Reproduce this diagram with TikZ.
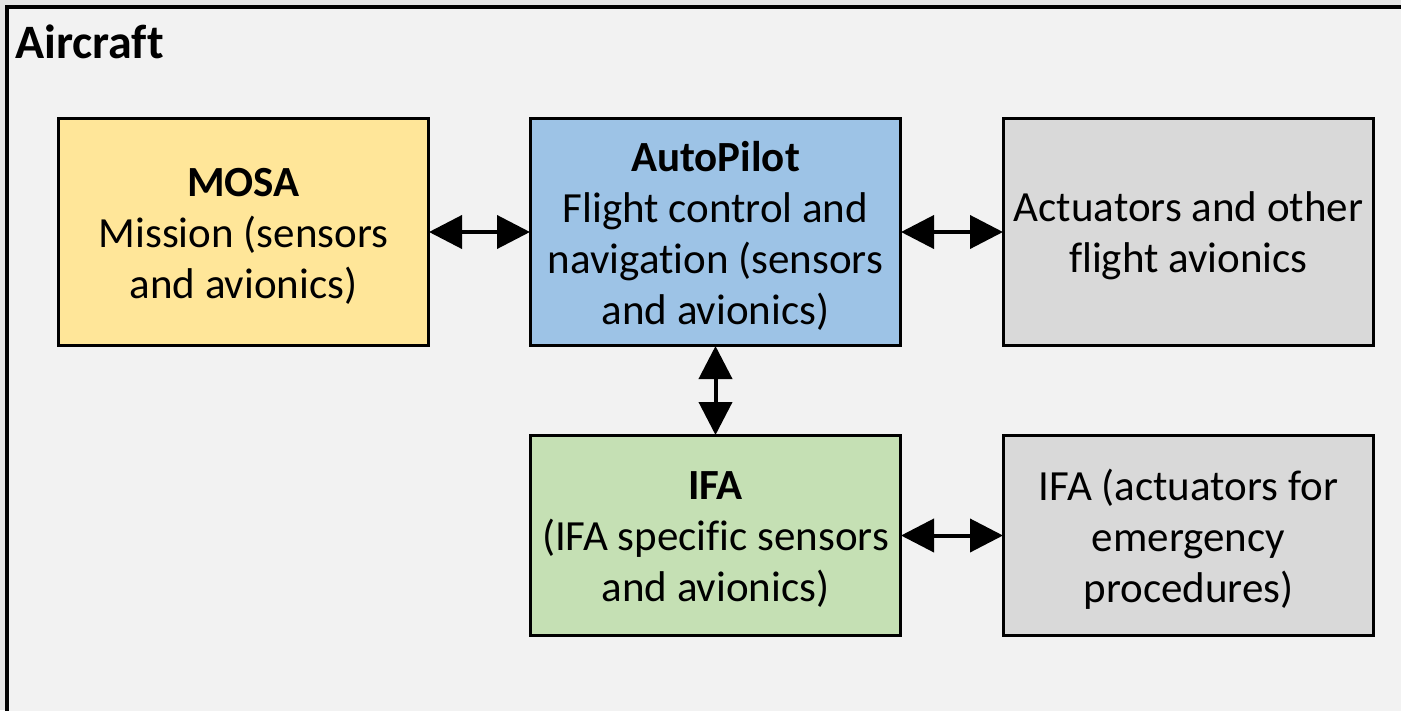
\documentclass[tikz,border=0pt]{standalone}
\usepackage{fontspec}
\setmainfont[Ligatures=CommonOff]{Carlito}
\usetikzlibrary{arrows.meta}
\definecolor{bgc}{HTML}{F2F2F2}
\definecolor{outc}{HTML}{E4E4E4}
\definecolor{mosac}{HTML}{FFE699}
\definecolor{apc}{HTML}{9DC3E6}
\definecolor{grc}{HTML}{D9D9D9}
\definecolor{ifac}{HTML}{C5E0B4}
\tikzset{
  blk/.style={draw=black, line width=3pt, minimum width=370pt, minimum height=227pt, inner sep=0pt},
  blks/.style={blk, minimum height=200pt},
  txt/.style={align=center, font=\fontsize{43}{51}\selectfont, inner sep=0pt, yshift=-4pt},
  dbl/.style={line width=4pt, {Triangle[length=33pt,width=33pt]}-{Triangle[length=33pt,width=33pt]}, shorten <=-1pt, shorten >=-1pt}
}
\begin{document}
\begin{tikzpicture}[x=1pt,y=-1pt]
\useasboundingbox (0,0) rectangle (1401,710);
\clip (0,0) rectangle (1401,710);
\fill[outc] (0,0) rectangle (1401,710);
\draw[line width=4pt, fill=bgc] (7,7) rectangle (1420,730);
\node[anchor=base west, font=\fontsize{48}{56}\selectfont\bfseries, inner sep=0pt] (title) at (15,58) {Aircraft};
\node[blk, fill=mosac] (mosa) at (243.5,232) {};
\node[blk, fill=apc] (ap) at (715.5,232) {};
\node[blk, fill=grc] (act) at (1188.5,232) {};
\node[blks, fill=ifac] (ifa) at (715.5,535.5) {};
\node[blks, fill=grc] (ifaact) at (1188.5,535.5) {};
\node[txt] (mosat) at (mosa.center) {\textbf{MOSA}\\Mission (sensors\\and avionics)};
\node[txt] (apt) at (ap.center) {\textbf{AutoPilot}\\Flight control and\\navigation (sensors\\and avionics)};
\node[txt] (actt) at (act.center) {Actuators and other\\flight avionics};
\node[txt] (ifat) at (ifa.center) {\textbf{IFA}\\(IFA specific sensors\\and avionics)};
\node[txt] (ifaactt) at (ifaact.center) {IFA (actuators for\\emergency\\procedures)};
\draw[dbl] (mosa.east) -- (ap.west);
\draw[dbl] (ap.east) -- (act.west);
\draw[dbl] (ap.south) -- (ifa.north);
\draw[dbl] (ifa.east) -- (ifaact.west);
\end{tikzpicture}
\end{document}
